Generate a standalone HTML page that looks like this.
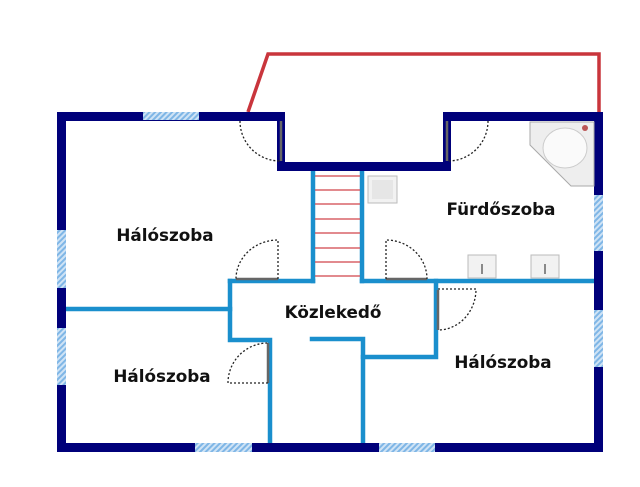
<!DOCTYPE html>
<html><head><meta charset="utf-8"><style>
html,body{margin:0;padding:0;background:#fff;}
svg{display:block;}
text{font-family:"DejaVu Sans","Liberation Sans",sans-serif;font-weight:bold;font-size:16.8px;fill:#111;}
</style></head><body>
<svg width="640" height="487" viewBox="0 0 640 487" xmlns="http://www.w3.org/2000/svg">
<defs>
<pattern id="h" width="4" height="4" patternUnits="userSpaceOnUse" patternTransform="rotate(45)">
<rect width="4" height="4" fill="#cfe3f5"/><rect width="2" height="4" fill="#7fb6e6"/></pattern>
</defs>
<polyline points="248,112 268,54 599,54 599,112" fill="none" stroke="#c9353c" stroke-width="3.5"/>
<g stroke="#1a8fcd" stroke-width="4.5" fill="none" stroke-linecap="square">
<line x1="313" y1="171" x2="313" y2="281"/>
<line x1="362" y1="171" x2="362" y2="281"/>
<line x1="230" y1="281" x2="313" y2="281"/>
<line x1="362" y1="281" x2="594" y2="281"/>
<polyline points="230,281 230,340 270,340 270,447"/>
<line x1="66" y1="309" x2="230" y2="309"/>
<polyline points="436,281 436,357 363,357"/>
<polyline points="312,339 363,339 363,447"/>
</g>
<g stroke="#d0454a" stroke-width="1.2">
<line x1="315" y1="176" x2="360" y2="176"/><line x1="315" y1="190" x2="360" y2="190"/>
<line x1="315" y1="204" x2="360" y2="204"/><line x1="315" y1="219" x2="360" y2="219"/>
<line x1="315" y1="233" x2="360" y2="233"/><line x1="315" y1="248" x2="360" y2="248"/>
<line x1="315" y1="262" x2="360" y2="262"/><line x1="315" y1="276" x2="360" y2="276"/>
</g>
<g fill="#00007a">
<rect x="57" y="112" width="228" height="9"/>
<rect x="277" y="112" width="8" height="59"/>
<rect x="277" y="162" width="174" height="9"/>
<rect x="443" y="112" width="8" height="59"/>
<rect x="443" y="112" width="160" height="9"/>
<rect x="57" y="112" width="9" height="340"/>
<rect x="594" y="112" width="9" height="340"/>
<rect x="57" y="443" width="546" height="9"/>
</g>
<g fill="url(#h)">
<rect x="143" y="112" width="56" height="8"/>
<rect x="57" y="230" width="9" height="58"/>
<rect x="57" y="328" width="9" height="57"/>
<rect x="594" y="195" width="9" height="56"/>
<rect x="594" y="310" width="9" height="57"/>
<rect x="195" y="443" width="57" height="9"/>
<rect x="379" y="443" width="56" height="9"/>
</g>
<g stroke="#666" stroke-width="2.5">
<line x1="281" y1="121" x2="281" y2="161"/>
<line x1="447" y1="121" x2="447" y2="161"/>
<line x1="236" y1="279" x2="278" y2="279"/>
<line x1="386" y1="279" x2="427" y2="279"/>
<line x1="438" y1="290" x2="438" y2="330"/>
<line x1="268" y1="343" x2="268" y2="383"/>
</g>
<g stroke="#222" stroke-width="1.3" stroke-dasharray="2,2" fill="none">
<path d="M240,121 A40,40 0 0 0 280,161"/>
<path d="M488,121 A40,40 0 0 1 448,161"/>
<path d="M278,279 L278,240 A42,39 0 0 0 236,279"/>
<path d="M386,279 L386,240 A41,39 0 0 1 427,279"/>
<path d="M438,289 L476,289 A38,41 0 0 1 438,330"/>
<path d="M268,383 L228,383 A40,40 0 0 1 268,343"/>
</g>
<rect x="368" y="176" width="29" height="27" fill="#f2f2f2" stroke="#bbb"/>
<rect x="372" y="180" width="21" height="19" fill="#e6e6e6"/>
<polygon points="530,122 594,122 594,186 571,186 530,145" fill="#eee" stroke="#aaa"/>
<ellipse cx="565" cy="148" rx="22" ry="20" fill="#fafafa" stroke="#ccc"/>
<circle cx="585" cy="128" r="3" fill="#b55"/>
<rect x="468" y="255" width="28" height="23" fill="#f2f2f2" stroke="#bbb"/>
<rect x="531" y="255" width="28" height="23" fill="#f2f2f2" stroke="#bbb"/>
<line x1="482" y1="264" x2="482" y2="274" stroke="#666" stroke-width="1.5"/>
<line x1="545" y1="264" x2="545" y2="274" stroke="#666" stroke-width="1.5"/>
<text x="165" y="241" text-anchor="middle">Hálószoba</text>
<text x="501" y="215" text-anchor="middle">Fürdőszoba</text>
<text x="333" y="318" text-anchor="middle">Közlekedő</text>
<text x="162" y="382" text-anchor="middle">Hálószoba</text>
<text x="503" y="368" text-anchor="middle">Hálószoba</text>
</svg>
</body></html>
